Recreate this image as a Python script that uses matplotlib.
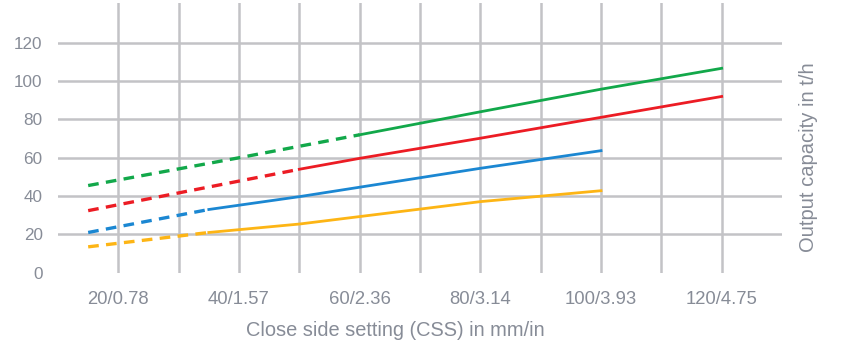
import matplotlib
matplotlib.use("Agg")
import matplotlib.pyplot as plt

# Daten
css_dashed = {
    "green": ([15, 40, 60], [45.5, 60, 72]),
    "red": ([15, 50], [32.4, 54]),
    "blue": ([15, 35], [21, 33]),
    "yellow": ([15, 35], [13.5, 21]),
}
css_solid = {
    "green": ([60, 80, 100, 120], [72, 84, 95.8, 106.7]),
    "red": ([50, 60, 80, 100, 120], [54, 59.7, 70.2, 81.1, 92]),
    "blue": ([35, 50, 80, 100], [33, 39.7, 54.5, 63.7]),
    "yellow": ([35, 50, 80, 100], [21, 25.4, 37.1, 42.8]),
}
colors = {"green": "#12a84a", "red": "#ec1c24", "blue": "#1b87d2", "yellow": "#fdb515"}

x_grid = [20, 30, 40, 50, 60, 70, 80, 90, 100, 110, 120]
x_ticks = [20, 40, 60, 80, 100, 120]
x_ticklabels = ["20/0.78", "40/1.57", "60/2.36", "80/3.14", "100/3.93", "120/4.75"]
y_ticks = [0, 20, 40, 60, 80, 100, 120]

text_col = "#878c97"
grid_col = "#c3c3c6"
plt.rcParams["font.family"] = ["Liberation Sans", "DejaVu Sans"]

fig = plt.figure(figsize=(8.44, 3.52), dpi=100)
ax = fig.add_axes([58 / 844, (352 - 272.7) / 352, (782 - 58) / 844, (272.7 - 3) / 352])
ax.set_xlim(10, 130)
ax.set_ylim(0, 140.8)

# Raster
for xg in x_grid:
    ax.axvline(xg, color=grid_col, lw=1.8, zorder=1)
for yg in y_ticks[1:]:
    ax.axhline(yg, color=grid_col, lw=1.8, zorder=1)

# Linien
for name in colors:
    xs, ys = css_dashed[name]
    ax.plot(xs, ys, color=colors[name], lw=2.4, ls=(0, (3.2, 2.2)), zorder=3)
    xs, ys = css_solid[name]
    ax.plot(xs, ys, color=colors[name], lw=2.0, zorder=3)

for s in ax.spines.values():
    s.set_visible(False)
ax.set_xticks(x_ticks)
ax.set_xticklabels(x_ticklabels)
ax.set_yticks(y_ticks)
ax.tick_params(length=0, colors=text_col)
ax.tick_params(axis="x", pad=13, labelsize=13.3)
ax.tick_params(axis="y", pad=11, labelsize=12.3)

fig.text(395 / 844, 1 - 330 / 352, "Close side setting (CSS) in mm/in",
         color=text_col, fontsize=14.4, ha="center", va="center")
fig.text(808 / 844, 1 - 157 / 352, "Output capacity in t/h", color=text_col,
         fontsize=14.5, rotation=90, ha="center", va="center")

fig.savefig("out.png", dpi=100)
